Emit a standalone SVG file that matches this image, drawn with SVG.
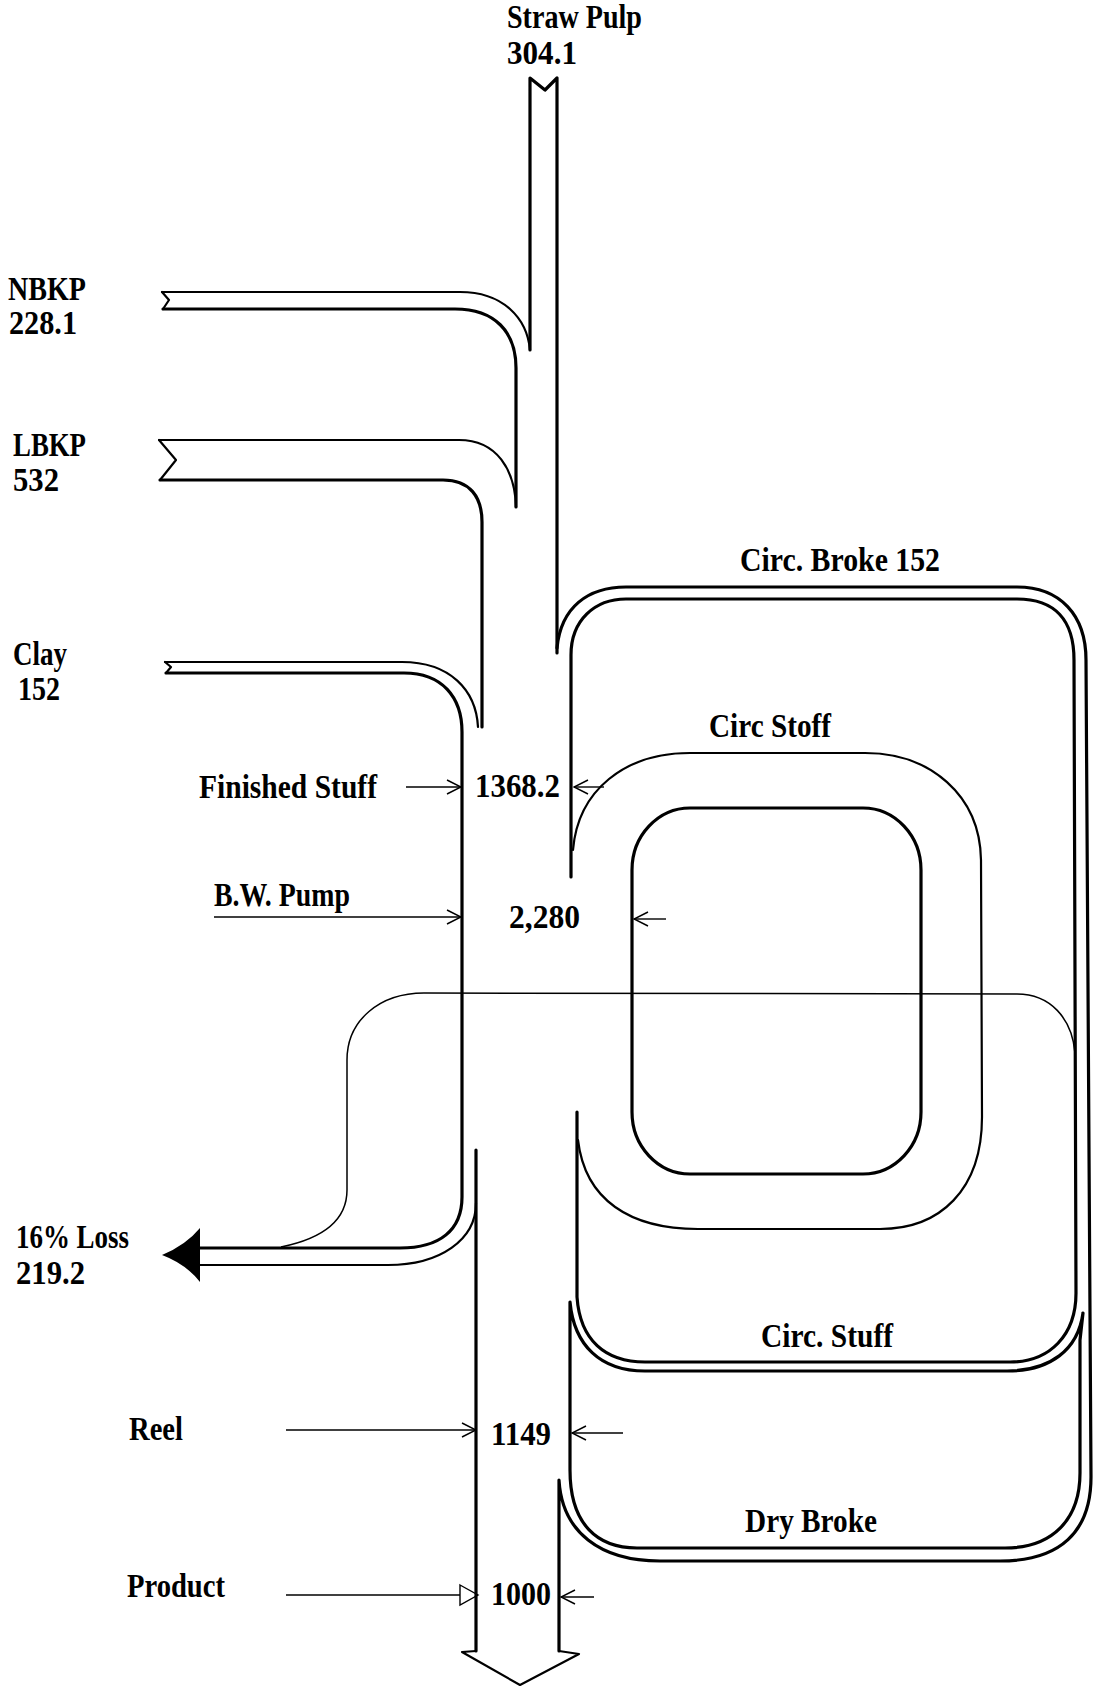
<svg xmlns="http://www.w3.org/2000/svg" width="1097" height="1696" viewBox="0 0 1097 1696">
<style>
.t{font-family:"Liberation Serif","Times New Roman",serif;font-weight:bold;font-size:33px;fill:#000}
.k{fill:none;stroke:#000;stroke-width:3.2;stroke-linejoin:round;stroke-linecap:round}
.m{fill:none;stroke:#000;stroke-width:2.2;stroke-linejoin:round;stroke-linecap:round}
.n{fill:none;stroke:#000;stroke-width:1.5}
.a{fill:none;stroke:#000;stroke-width:1.4}
</style>
<defs>
<marker id="v" markerUnits="userSpaceOnUse" markerWidth="16" markerHeight="16" viewBox="0 0 16 16" refX="15" refY="8" orient="auto">
<path d="M1,1 L15,8 L1,15" fill="none" stroke="#000" stroke-width="1.5"/>
</marker>
</defs>
<rect width="1097" height="1696" fill="#fff"/>

<g id="connectors">
<!-- straw pulp trunk -->
<path class="k" d="M530,350 L530,78 L545,90 L557,78 L557,653"/>
<!-- NBKP -->
<path class="m" d="M162,292 L169,300 L163,309"/>
<path class="m" d="M162,292 L460,292 C503,292 527,318 530,350"/>
<path class="k" d="M163,309 L455,309 C495,309 516,332 516,368 L516,507"/>
<!-- LBKP -->
<path class="m" d="M159,440 L176,460 L160,480"/>
<path class="m" d="M159,440 L459,440 C497,440 515,470 516,507"/>
<path class="k" d="M160,480 L443,480 C470,480 482,497 482,522 L482,727"/>
<!-- Clay -->
<path class="m" d="M165,662 L171,667 L166,673"/>
<path class="m" d="M165,662 L402,662 C450,662 476,690 478,727"/>
<path class="k" d="M166,673 L404,673 C442,673 462,697 462,732 L462,1197 C462,1230 440,1248 400,1248 L199,1248"/>
<!-- loss lower and product trunk -->
<path class="m" d="M199,1265 L388,1265 C440,1265 476,1240 476,1203"/>
<path class="k" d="M476,1150 L476,1651"/>
<!-- bottom arrow -->
<path class="m" d="M476,1651 L462,1652 L520,1685 L579,1654 L559,1651"/>
<!-- loss arrowhead -->
<path d="M200,1228 Q186,1245 162,1255 Q186,1264 200,1282 Z" fill="#000"/>
<!-- loss thin loop -->
<path class="n" d="M281,1247 C330,1237 347,1215 347,1190 L347,1060 C347,1020 380,993 424,993 L1017,994 C1050,994 1072,1018 1075,1053"/>
<!-- circ broke outer / dry broke outer -->
<path class="k" d="M559,1651 L559,1480 C562,1532 600,1561 660,1561 L1000,1561 C1060,1561 1091,1532 1091,1477 L1086,660 C1086,615 1060,587 1017,587 L626,587 C588,587 561,607 557,648"/>
<!-- circ broke inner / circ stuff top -->
<path class="k" d="M577,1112 L577,1297 C580,1340 605,1362 645,1362 L1010,1362 C1050,1362 1076,1335 1076,1293 L1074,660 C1074,620 1055,599 1017,599 L626,599 C595,599 571,620 571,655 L571,877"/>
<!-- circ stuff bottom / dry broke inner -->
<path class="k" d="M570,1470 L570,1302 C574,1345 600,1371 645,1371 L1007,1371 C1050,1371 1078,1350 1083,1313 L1080,1340 L1080,1473 C1080,1520 1052,1548 1005,1548 L637,1548 C598,1548 570,1525 570,1470"/>
<!-- circ stoff outer -->
<path class="m" d="M573,850 C578,790 625,753 690,753 L865,753 C930,753 980,795 981,860 L982,1117 C982,1190 940,1229 880,1229 L698,1229 C630,1229 585,1200 578,1140"/>
<!-- circ stoff inner loop -->
<rect class="k" x="632" y="808" width="289" height="366" rx="58" ry="62"/>
<!-- flow arrows -->
<line class="a" x1="406" y1="787" x2="461" y2="787" marker-end="url(#v)"/>
<line class="a" x1="604" y1="787" x2="574" y2="787" marker-end="url(#v)"/>
<line class="a" x1="214" y1="917" x2="461" y2="917" marker-end="url(#v)"/>
<line class="a" x1="666" y1="919" x2="634" y2="919" marker-end="url(#v)"/>
<line class="a" x1="286" y1="1430" x2="476" y2="1430" marker-end="url(#v)"/>
<line class="a" x1="623" y1="1433" x2="572" y2="1433" marker-end="url(#v)"/>
<line class="a" x1="286" y1="1595" x2="460" y2="1595"/>
<path class="a" d="M460,1585 L478,1595 L460,1605 Z"/>
<line class="a" x1="594" y1="1597" x2="561" y2="1597" marker-end="url(#v)"/>
</g>

<g id="straw-pulp"><text class="t" x="507" y="28" textLength="135" lengthAdjust="spacingAndGlyphs">Straw Pulp</text><text class="t" x="507" y="64" textLength="70" lengthAdjust="spacingAndGlyphs">304.1</text></g>
<g id="nbkp"><text class="t" x="8" y="300" textLength="78" lengthAdjust="spacingAndGlyphs">NBKP</text><text class="t" x="9" y="334" textLength="68" lengthAdjust="spacingAndGlyphs">228.1</text></g>
<g id="lbkp"><text class="t" x="13" y="456" textLength="73" lengthAdjust="spacingAndGlyphs">LBKP</text><text class="t" x="13" y="491" textLength="46" lengthAdjust="spacingAndGlyphs">532</text></g>
<g id="clay"><text class="t" x="13" y="665" textLength="54" lengthAdjust="spacingAndGlyphs">Clay</text><text class="t" x="18" y="700" textLength="42" lengthAdjust="spacingAndGlyphs">152</text></g>
<g id="finished-stuff"><text class="t" x="199" y="798" textLength="178" lengthAdjust="spacingAndGlyphs">Finished Stuff</text><text class="t" x="475" y="797" textLength="85" lengthAdjust="spacingAndGlyphs">1368.2</text></g>
<g id="bw-pump"><text class="t" x="214" y="906" textLength="136" lengthAdjust="spacingAndGlyphs">B.W. Pump</text><text class="t" x="509" y="928" textLength="71" lengthAdjust="spacingAndGlyphs">2,280</text></g>
<g id="circ-broke"><text class="t" x="740" y="571" textLength="200" lengthAdjust="spacingAndGlyphs">Circ. Broke 152</text></g>
<g id="circ-stoff"><text class="t" x="709" y="737" textLength="122" lengthAdjust="spacingAndGlyphs">Circ Stoff</text></g>
<g id="circ-stuff"><text class="t" x="761" y="1347" textLength="132" lengthAdjust="spacingAndGlyphs">Circ. Stuff</text></g>
<g id="dry-broke"><text class="t" x="745" y="1532" textLength="132" lengthAdjust="spacingAndGlyphs">Dry Broke</text></g>
<g id="loss"><text class="t" x="16" y="1248" textLength="113" lengthAdjust="spacingAndGlyphs">16% Loss</text><text class="t" x="16" y="1284" textLength="69" lengthAdjust="spacingAndGlyphs">219.2</text></g>
<g id="reel"><text class="t" x="129" y="1440" textLength="54" lengthAdjust="spacingAndGlyphs">Reel</text><text class="t" x="491" y="1445" textLength="60" lengthAdjust="spacingAndGlyphs">1149</text></g>
<g id="product"><text class="t" x="127" y="1597" textLength="98" lengthAdjust="spacingAndGlyphs">Product</text><text class="t" x="491" y="1605" textLength="60" lengthAdjust="spacingAndGlyphs">1000</text></g>
</svg>
